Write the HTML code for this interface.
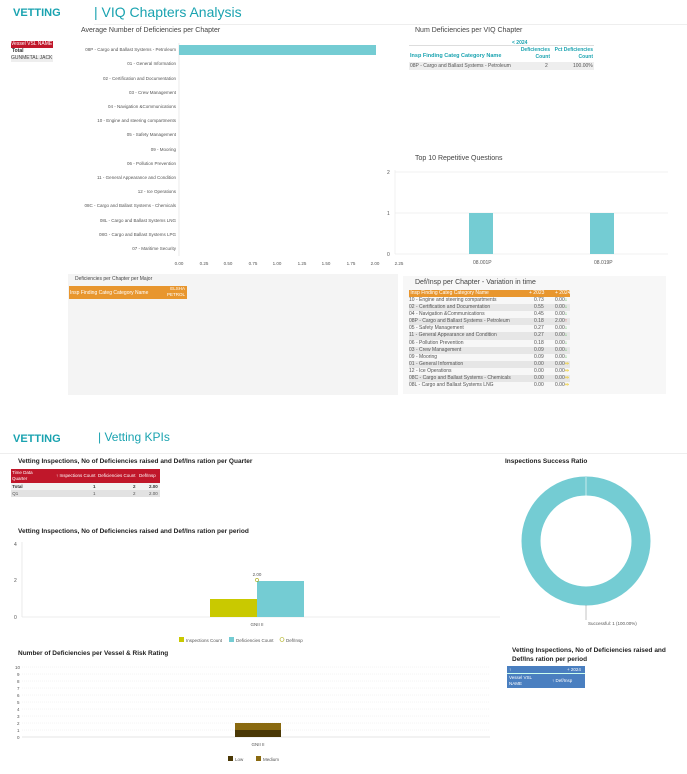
<!DOCTYPE html>
<html><head><meta charset="utf-8"><style>
body{margin:0;width:687px;height:774px;background:#fff;font-family:"Liberation Sans",sans-serif;position:relative;overflow:hidden;color:#444}
.a{position:absolute;white-space:nowrap}
.a *{white-space:nowrap}
.t{font-size:5px;color:#555}
</style></head><body>
<div class="a" style="left:13px;top:7px;font-size:11px;font-weight:bold;color:#1aa3b0">VETTING</div>
<div class="a" style="left:94px;top:4px;font-size:14px;color:#1aa3b0">| VIQ Chapters Analysis</div>
<div class="a" style="left:94px;top:24px;width:593px;height:1px;background:#eee"></div>
<div class="a" style="left:81px;top:27px;font-size:7px;color:#444">Average Number of Deficiencies per Chapter</div>
<div class="a" style="left:11px;top:41px;width:42px;height:7px;background:#c0172a;color:#fff;font-size:5px;line-height:7px">Vessel VSL NAME</div>
<div class="a" style="left:12px;top:48px;font-size:5px;font-weight:bold;color:#333">Total</div>
<div class="a" style="left:11px;top:55px;width:42px;height:7px;background:#eee;font-size:5px;line-height:7px">GUNMETAL JACK</div>

<svg class="a" style="left:0;top:0" width="687" height="774">
<g font-family="Liberation Sans" font-size="4.5" fill="#555" text-anchor="end">
<text x="176" y="51">08P - Cargo and Ballast Systems - Petroleum</text>
<text x="176" y="65">01 - General Information</text>
<text x="176" y="80">02 - Certification and Documentation</text>
<text x="176" y="94">03 - Crew Management</text>
<text x="176" y="108">04 - Navigation &amp;Communications</text>
<text x="176" y="122">10 - Engine and steering compartments</text>
<text x="176" y="136">05 - Safety Management</text>
<text x="176" y="151">09 - Mooring</text>
<text x="176" y="165">06 - Pollution Prevention</text>
<text x="176" y="179">11 - General Appearance and Condition</text>
<text x="176" y="193">12 - Ice Operations</text>
<text x="176" y="207">08C - Cargo and Ballast Systems - Chemicals</text>
<text x="176" y="222">08L - Cargo and Ballast Systems LNG</text>
<text x="176" y="236">08G - Cargo and Ballast Systems LPG</text>
<text x="176" y="250">07 - Maritime Security</text>
</g>
<line x1="179" y1="43" x2="179" y2="256" stroke="#ddd" stroke-width="0.6"/>
<rect x="179" y="45" width="197" height="10" fill="#74ccd3"/>
<g font-family="Liberation Sans" font-size="4.5" fill="#555" text-anchor="middle">
<text x="179" y="265">0.00</text><text x="204" y="265">0.25</text><text x="228" y="265">0.50</text><text x="253" y="265">0.75</text><text x="277" y="265">1.00</text><text x="302" y="265">1.25</text><text x="326" y="265">1.50</text><text x="351" y="265">1.75</text><text x="375" y="265">2.00</text><text x="399" y="265">2.25</text>
</g>
<g stroke="#e6e6e6" stroke-width="0.6"><line x1="395" y1="172" x2="668" y2="172"/><line x1="395" y1="213" x2="668" y2="213"/><line x1="395" y1="254" x2="668" y2="254"/><line x1="395" y1="170" x2="395" y2="254"/></g>
<g font-family="Liberation Sans" font-size="5" fill="#555"><text x="387" y="174">2</text><text x="387" y="215">1</text><text x="387" y="256">0</text>
<text x="473" y="264">08.001P</text><text x="594" y="264">08.019P</text></g>
<rect x="469" y="213" width="24" height="41" fill="#74ccd3"/><rect x="590" y="213" width="24" height="41" fill="#74ccd3"/>
<circle cx="586" cy="541" r="55" fill="none" stroke="#74ccd3" stroke-width="19"/>
<line x1="586" y1="477" x2="586" y2="496" stroke="#fff" stroke-width="0.6"/>
<line x1="586" y1="605" x2="586" y2="620" stroke="#888" stroke-width="0.5"/>
<text x="588" y="625" font-family="Liberation Sans" font-size="4.5" fill="#555">Successful: 1 (100.00%)</text>
<g font-family="Liberation Sans" font-size="5" fill="#555"><text x="14" y="546">4</text><text x="14" y="582">2</text><text x="14" y="619">0</text></g>
<line x1="22" y1="542" x2="22" y2="617" stroke="#ddd" stroke-width="0.6"/>
<line x1="22" y1="617" x2="500" y2="617" stroke="#ddd" stroke-width="0.6"/>
<rect x="210" y="599" width="47" height="18" fill="#c9c900"/>
<rect x="257" y="581" width="47" height="36" fill="#74ccd3"/>
<circle cx="257" cy="580" r="1.6" fill="none" stroke="#a6a600" stroke-width="0.6"/>
<text x="257" y="576" font-family="Liberation Sans" font-size="4.5" fill="#555" text-anchor="middle">2.00</text>
<text x="257" y="626" font-family="Liberation Sans" font-size="4.5" fill="#555" text-anchor="middle">GNII II</text>
<rect x="179" y="637" width="5" height="5" fill="#c9c900"/><text x="186" y="642" font-family="Liberation Sans" font-size="4.5" fill="#555">Inspections Count</text>
<rect x="229" y="637" width="5" height="5" fill="#74ccd3"/><text x="236" y="642" font-family="Liberation Sans" font-size="4.5" fill="#555">Deficiencies Count</text>
<circle cx="282" cy="639.5" r="2" fill="none" stroke="#a6a600" stroke-width="0.6"/><text x="286" y="642" font-family="Liberation Sans" font-size="4.5" fill="#555">Def/Insp</text>
<g font-family="Liberation Sans" font-size="4.5" fill="#555" stroke="none">
<text x="15" y="669">10</text><text x="17" y="676">9</text><text x="17" y="683">8</text><text x="17" y="690">7</text><text x="17" y="697">6</text><text x="17" y="704">5</text><text x="17" y="711">4</text><text x="17" y="718">3</text><text x="17" y="725">2</text><text x="17" y="732">1</text><text x="17" y="739">0</text></g>
<g stroke="#e8e8e8" stroke-width="0.5" stroke-dasharray="1,1">
<line x1="22" y1="667" x2="490" y2="667"/><line x1="22" y1="674" x2="490" y2="674"/><line x1="22" y1="681" x2="490" y2="681"/><line x1="22" y1="688" x2="490" y2="688"/><line x1="22" y1="695" x2="490" y2="695"/><line x1="22" y1="702" x2="490" y2="702"/><line x1="22" y1="709" x2="490" y2="709"/><line x1="22" y1="716" x2="490" y2="716"/><line x1="22" y1="723" x2="490" y2="723"/><line x1="22" y1="730" x2="490" y2="730"/></g>
<line x1="22" y1="737" x2="490" y2="737" stroke="#ccc" stroke-width="0.5"/>
<rect x="235" y="723" width="46" height="7" fill="#8a6a10"/>
<rect x="235" y="730" width="46" height="7" fill="#4a3806"/>
<text x="258" y="746" font-family="Liberation Sans" font-size="4.5" fill="#555" text-anchor="middle">GNII II</text>
<rect x="228" y="756" width="5" height="5" fill="#4a3806"/><text x="235" y="761" font-family="Liberation Sans" font-size="4.5" fill="#555">Low</text>
<rect x="256" y="756" width="5" height="5" fill="#8a6a10"/><text x="263" y="761" font-family="Liberation Sans" font-size="4.5" fill="#555">Medium</text>
</svg>

<div class="a" style="left:415px;top:27px;font-size:7px;color:#444">Num Deficiencies per VIQ Chapter</div>
<div class="a" style="left:409px;top:45px;width:185px;height:1px;background:#ddd"></div>
<div class="a" style="left:512px;top:40px;font-size:5px;font-weight:bold;color:#1aa3b0">&lt; 2024</div>
<div class="a" style="left:410px;top:53px;font-size:5.5px;font-weight:bold;color:#1aa3b0">Insp Finding Categ Category Name</div>
<div class="a" style="left:515px;top:47px;font-size:5px;font-weight:bold;color:#1aa3b0;text-align:right;line-height:7px;width:35px">Deficiencies<br>Count</div>
<div class="a" style="left:553px;top:47px;font-size:5px;font-weight:bold;color:#1aa3b0;text-align:right;line-height:7px;width:40px">Pct Deficiencies<br>Count</div>
<div class="a" style="left:409px;top:62px;width:185px;height:8px;background:#eee"></div>
<div class="a t" style="left:410px;top:63px">08P - Cargo and Ballast Systems - Petroleum</div>
<div class="a t" style="left:545px;top:63px">2</div>
<div class="a t" style="left:573px;top:63px">100.00%</div>
<div class="a" style="left:415px;top:155px;font-size:7px;color:#444">Top 10 Repetitive Questions</div>

<div class="a" style="left:68px;top:274px;width:330px;height:121px;background:#f4f4f4"></div>
<div class="a" style="left:75px;top:276px;font-size:5px;color:#444">Deficiencies per Chapter per Major</div>
<div class="a" style="left:69px;top:286px;width:118px;height:13px;background:#e8962e"></div>
<div class="a" style="left:70px;top:290px;font-size:5px;color:#fff">Insp Finding Categ Category Name</div>
<div class="a" style="left:160px;top:286px;font-size:4.5px;color:#fff;text-align:right;width:25px;line-height:6px">ELSHA<br>PETROL</div>

<div class="a" style="left:403px;top:276px;width:263px;height:118px;background:#f7f7f7"></div>
<div class="a" style="left:415px;top:279px;font-size:7px;color:#444">Def/Insp per Chapter - Variation in time</div>
<div class="a" style="left:409px;top:290px;width:161px;height:7px;background:#e8962e;color:#fff;font-size:5px;line-height:7px">&nbsp;Insp Finding Categ Category Name<span style="position:absolute;left:120px">+ 2023</span><span style="position:absolute;left:146px">+ 2024</span></div>
<div class="a" style="left:409px;top:297px;width:161px;font-size:5px;line-height:7.1px;color:#555">
<div style="position:relative">10 - Engine and steering compartments<span style="position:absolute;left:125px">0.73</span><span style="position:absolute;left:146px">0.00<b style="color:#2a2">↓</b></span></div>
<div style="position:relative;background:#e6e6e6">02 - Certification and Documentation<span style="position:absolute;left:125px">0.55</span><span style="position:absolute;left:146px">0.00<b style="color:#2a2">↓</b></span></div>
<div style="position:relative">04 - Navigation &amp;Communications<span style="position:absolute;left:125px">0.45</span><span style="position:absolute;left:146px">0.00<b style="color:#2a2">↓</b></span></div>
<div style="position:relative;background:#e6e6e6">08P - Cargo and Ballast Systems - Petroleum<span style="position:absolute;left:125px">0.18</span><span style="position:absolute;left:146px">2.00<b style="color:#d22">↑</b></span></div>
<div style="position:relative">05 - Safety Management<span style="position:absolute;left:125px">0.27</span><span style="position:absolute;left:146px">0.00<b style="color:#2a2">↓</b></span></div>
<div style="position:relative;background:#e6e6e6">11 - General Appearance and Condition<span style="position:absolute;left:125px">0.27</span><span style="position:absolute;left:146px">0.00<b style="color:#2a2">↓</b></span></div>
<div style="position:relative">06 - Pollution Prevention<span style="position:absolute;left:125px">0.18</span><span style="position:absolute;left:146px">0.00<b style="color:#2a2">↓</b></span></div>
<div style="position:relative;background:#e6e6e6">03 - Crew Management<span style="position:absolute;left:125px">0.09</span><span style="position:absolute;left:146px">0.00<b style="color:#2a2">↓</b></span></div>
<div style="position:relative">09 - Mooring<span style="position:absolute;left:125px">0.09</span><span style="position:absolute;left:146px">0.00<b style="color:#2a2">↓</b></span></div>
<div style="position:relative;background:#e6e6e6">01 - General Information<span style="position:absolute;left:125px">0.00</span><span style="position:absolute;left:146px">0.00<b style="color:#ec3">⇒</b></span></div>
<div style="position:relative">12 - Ice Operations<span style="position:absolute;left:125px">0.00</span><span style="position:absolute;left:146px">0.00<b style="color:#ec3">⇒</b></span></div>
<div style="position:relative;background:#e6e6e6">08C - Cargo and Ballast Systems - Chemicals<span style="position:absolute;left:125px">0.00</span><span style="position:absolute;left:146px">0.00<b style="color:#ec3">⇒</b></span></div>
<div style="position:relative">08L - Cargo and Ballast Systems LNG<span style="position:absolute;left:125px">0.00</span><span style="position:absolute;left:146px">0.00<b style="color:#ec3">⇒</b></span></div>
</div>

<div class="a" style="left:13px;top:433px;font-size:11px;font-weight:bold;color:#1aa3b0">VETTING</div>
<div class="a" style="left:98px;top:430px;font-size:12px;color:#1aa3b0">| Vetting KPIs</div>
<div class="a" style="left:0;top:453px;width:687px;height:1px;background:#eee"></div>
<div class="a" style="left:18px;top:458px;font-size:6.5px;font-weight:bold;color:#222">Vetting Inspections, No of Deficiencies raised and Def/Ins ration per Quarter</div>
<div class="a" style="left:11px;top:469px;width:149px;height:14px;background:#c0172a;color:#fff;font-size:4.5px">
<span style="position:absolute;left:1px;top:1px;line-height:6px">Time Data<br>Quarter</span>
<span style="position:absolute;left:45px;top:4px">↑ Inspections Count</span>
<span style="position:absolute;left:87px;top:4px">Deficiencies Count</span>
<span style="position:absolute;left:128px;top:4px">Def/Insp</span></div>
<div class="a" style="left:11px;top:483px;width:149px;height:7px;background:#f2f2f2;font-size:4.5px;line-height:7px;font-weight:bold;color:#333">&nbsp;Total<span style="position:absolute;left:82px">1</span><span style="position:absolute;left:122px">2</span><span style="position:absolute;left:138px">2.00</span></div>
<div class="a" style="left:11px;top:490px;width:149px;height:7px;background:#e2e2e2;font-size:4.5px;line-height:7px;color:#555">&nbsp;Q1<span style="position:absolute;left:82px">1</span><span style="position:absolute;left:122px">2</span><span style="position:absolute;left:138px">2.00</span></div>
<div class="a" style="left:18px;top:528px;font-size:6.5px;font-weight:bold;color:#222">Vetting Inspections, No of Deficiencies raised and Def/Ins ration per period</div>
<div class="a" style="left:505px;top:458px;font-size:6.5px;font-weight:bold;color:#222">Inspections Success Ratio</div>
<div class="a" style="left:18px;top:650px;font-size:6.5px;font-weight:bold;color:#222">Number of Deficiencies per Vessel &amp; Risk Rating</div>
<div class="a" style="left:512px;top:646px;font-size:6.5px;font-weight:bold;color:#222;line-height:9px">Vetting Inspections, No of Deficiencies raised and<br>Def/Ins ration per period</div>
<div class="a" style="left:507px;top:666px;width:78px;height:22px;background:#4a7fc0;color:#fff;font-size:4.5px">
<span style="position:absolute;left:2px;top:1px">↑</span><span style="position:absolute;left:60px;top:1px">+ 2024</span>
<div style="position:absolute;left:0;top:7px;width:78px;height:0.5px;background:#cfe"></div>
<span style="position:absolute;left:2px;top:9px;line-height:6px">Vessel VSL<br>NAME</span><span style="position:absolute;left:45px;top:12px">↑ Def/Insp</span></div>
</body></html>
